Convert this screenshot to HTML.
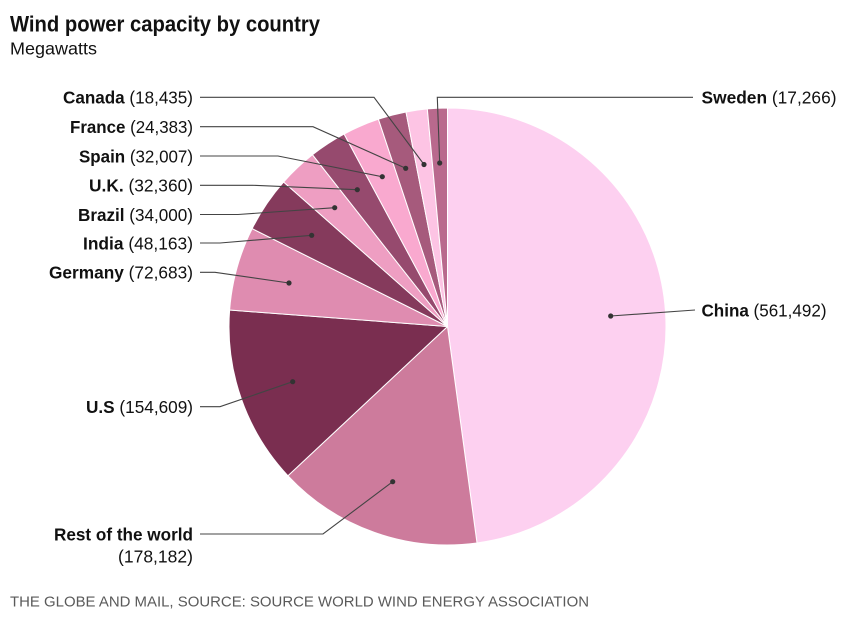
<!DOCTYPE html>
<html><head><meta charset="utf-8"><style>
html,body{margin:0;padding:0;background:#fff;}
svg{display:block;}
text{font-family:"Liberation Sans",Arial,sans-serif;}
</style></head><body>
<svg id="s" width="854" height="622" viewBox="0 0 854 622" xmlns="http://www.w3.org/2000/svg">
<text x="10" y="31.7" font-size="22" font-weight="bold" fill="#111" textLength="310" lengthAdjust="spacingAndGlyphs">Wind power capacity by country</text>
<text x="10" y="54.5" font-size="17.5" fill="#111" textLength="87" lengthAdjust="spacingAndGlyphs">Megawatts</text>
<g id="pie"></g>
<g id="lines" fill="none" stroke="#444" stroke-width="1.1">
<polyline points="200,97.3 374,97.3 424,164.5"/>
<polyline points="200,126.7 313,126.7 405.7,168.3"/>
<polyline points="200,156 278,156 382.3,176.7"/>
<polyline points="200,185.3 253,185.3 357.3,189.7"/>
<polyline points="200,214.5 238,214.5 334.7,207.7"/>
<polyline points="200,243 220,243 311.7,235.3"/>
<polyline points="200,272.3 215,272.3 289,283"/>
<polyline points="200,406.7 220,406.7 292.7,381.7"/>
<polyline points="200,534 323,534 392.7,481.7"/>
<polyline points="439.7,163 437.3,97.3 693,97.3"/>
<polyline points="610.7,316 695,310"/>
</g>
<g fill="#333">
<circle cx="424" cy="164.5" r="2.6"/><circle cx="405.7" cy="168.3" r="2.6"/>
<circle cx="382.3" cy="176.7" r="2.6"/><circle cx="357.3" cy="189.7" r="2.6"/>
<circle cx="334.7" cy="207.7" r="2.6"/><circle cx="311.7" cy="235.3" r="2.6"/>
<circle cx="289" cy="283" r="2.6"/><circle cx="292.7" cy="381.7" r="2.6"/>
<circle cx="392.7" cy="481.7" r="2.6"/><circle cx="439.7" cy="163" r="2.6"/>
<circle cx="610.7" cy="316" r="2.6"/>
</g>
<g font-size="17.5" fill="#111" text-anchor="end">
<text x="193" y="103.7" textLength="130" lengthAdjust="spacingAndGlyphs"><tspan font-weight="bold">Canada</tspan> (18,435)</text>
<text x="193" y="133.1" textLength="123" lengthAdjust="spacingAndGlyphs"><tspan font-weight="bold">France</tspan> (24,383)</text>
<text x="193" y="162.4" textLength="114" lengthAdjust="spacingAndGlyphs"><tspan font-weight="bold">Spain</tspan> (32,007)</text>
<text x="193" y="191.7" textLength="104" lengthAdjust="spacingAndGlyphs"><tspan font-weight="bold">U.K.</tspan> (32,360)</text>
<text x="193" y="220.9" textLength="115" lengthAdjust="spacingAndGlyphs"><tspan font-weight="bold">Brazil</tspan> (34,000)</text>
<text x="193" y="249.4" textLength="110" lengthAdjust="spacingAndGlyphs"><tspan font-weight="bold">India</tspan> (48,163)</text>
<text x="193" y="278.7" textLength="144" lengthAdjust="spacingAndGlyphs"><tspan font-weight="bold">Germany</tspan> (72,683)</text>
<text x="193" y="413.1" textLength="107" lengthAdjust="spacingAndGlyphs"><tspan font-weight="bold">U.S</tspan> (154,609)</text>
<text x="193" y="540.4" font-weight="bold" textLength="139" lengthAdjust="spacingAndGlyphs">Rest of the world</text>
<text x="193" y="562.4" textLength="75" lengthAdjust="spacingAndGlyphs">(178,182)</text>
</g>
<g font-size="17.5" fill="#111">
<text x="701.5" y="103.7" textLength="135" lengthAdjust="spacingAndGlyphs"><tspan font-weight="bold">Sweden</tspan> (17,266)</text>
<text x="701.5" y="316.5" textLength="125" lengthAdjust="spacingAndGlyphs"><tspan font-weight="bold">China</tspan> (561,492)</text>
</g>
<text x="10" y="606.7" font-size="15" fill="#5a5a5a" textLength="579" lengthAdjust="spacingAndGlyphs">THE GLOBE AND MAIL, SOURCE: SOURCE WORLD WIND ENERGY ASSOCIATION</text>
</svg>
<script>
(function(){
var data=[[561492,"#fdd0f0"],[178182,"#cd7b9c"],[154609,"#7a2e50"],[72683,"#df8cb0"],[48163,"#853a5c"],[34000,"#ee9ec2"],[32360,"#964a6e"],[32007,"#f9a9cf"],[24383,"#a65a7c"],[18435,"#fdc4e4"],[17266,"#b9698d"]];
var tot=0;data.forEach(function(d){tot+=d[0];});
var cx=447.5,cy=326.5,r=218.5,a=0,g=document.getElementById("pie"),h="";
data.forEach(function(d){
var a2=a+d[0]/tot*2*Math.PI;
var x1=cx+r*Math.sin(a),y1=cy-r*Math.cos(a),x2=cx+r*Math.sin(a2),y2=cy-r*Math.cos(a2);
var large=(a2-a)>Math.PI?1:0;
h+='<path d="M'+cx+','+cy+' L'+x1.toFixed(2)+','+y1.toFixed(2)+' A'+r+','+r+' 0 '+large+' 1 '+x2.toFixed(2)+','+y2.toFixed(2)+' Z" fill="'+d[1]+'" stroke="#fff" stroke-width="1" stroke-linejoin="round"/>';
a=a2;});
g.innerHTML=h;
})();
</script>
</body></html>
